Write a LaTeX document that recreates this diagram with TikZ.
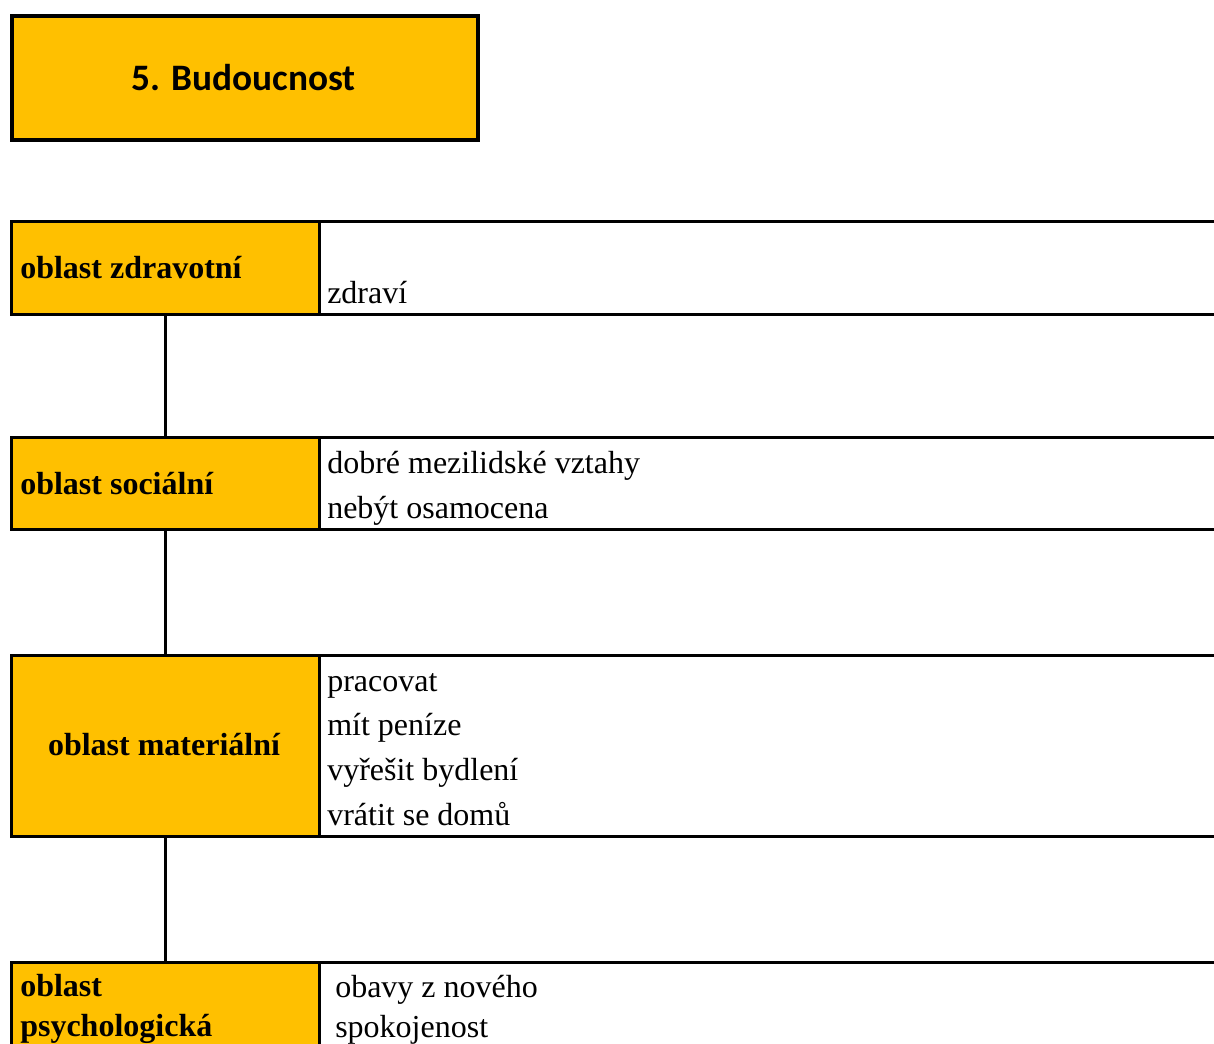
\documentclass[tikz,border=0pt]{standalone}
\usepackage{fontspec}
\setmainfont{Liberation Serif}
\newfontfamily\headfont{Carlito}
\definecolor{areafill}{HTML}{FFC000}
\begin{document}
\begin{tikzpicture}[x=0.75pt,y=-0.75pt,
  headbox/.style={draw=black,line width=3pt,fill=areafill,inner sep=0pt,anchor=north west,
    minimum width=349.5pt,minimum height=93pt},
  areabox/.style={draw=black,line width=2.25pt,fill=areafill,inner sep=0pt,anchor=north west,
    minimum width=231pt},
  itembox/.style={draw=black,line width=2.25pt,fill=white,inner sep=0pt,anchor=north west,
    minimum width=690pt},
  areatext/.style={inner sep=0pt,anchor=base west,font=\fontsize{24pt}{28pt}\selectfont\bfseries},
  itemtext/.style={inner sep=0pt,anchor=base west,font=\fontsize{24pt}{28pt}\selectfont},
  link/.style={line width=2.6pt}]
\useasboundingbox (0,0) rectangle (1214,1043);

% title
\node[headbox] (head) at (10,14) {};
\node[inner sep=0pt,anchor=base,font=\headfont\fontsize{28pt}{32pt}\selectfont\bfseries] (headtxt) at (243.5,90) {5. Budoucnost};

% item boxes (right side, running past the page edge)
\node[itembox,minimum height=69.75pt] (i1) at (318,220) {};
\node[itembox,minimum height=69pt] (i2) at (318,436) {};
\node[itembox,minimum height=135.75pt] (i3) at (318,654) {};
\node[itembox,minimum height=112.5pt] (i4) at (318,961) {};

% area boxes (left side)
\node[areabox,minimum height=69.75pt] (a1) at (10,220) {};
\node[areabox,minimum height=69pt] (a2) at (10,436) {};
\node[areabox,minimum height=135.75pt] (a3) at (10,654) {};
\node[areabox,minimum height=112.5pt] (a4) at (10,961) {};

% connectors
\draw[link] (a1.south) -- (a2.north);
\draw[link] (a2.south) -- (a3.north);
\draw[link] (a3.south) -- (a4.north);

% area labels
\node[areatext] (t1) at (20,278) {oblast zdravotní};
\node[areatext] (t2) at (20,494) {oblast sociální};
\node[areatext,anchor=base] (t3) at (164,755) {oblast materiální};
\node[areatext] (t4a) at (20,996) {oblast};
\node[areatext] (t4b) at (20,1036) {psychologická};

% item labels
\node[itemtext] (z1) at (327,303) {zdraví};
\node[itemtext] (s1) at (327,473) {dobré mezilidské vztahy};
\node[itemtext] (s2) at (327,518) {nebýt osamocena};
\node[itemtext] (m1) at (327,691) {pracovat};
\node[itemtext] (m2) at (327,735) {mít peníze};
\node[itemtext] (m3) at (327,780) {vyřešit bydlení};
\node[itemtext] (m4) at (327,825) {vrátit se domů};
\node[itemtext] (p1) at (335,997) {obavy z nového};
\node[itemtext] (p2) at (335,1037) {spokojenost};
\end{tikzpicture}
\end{document}
